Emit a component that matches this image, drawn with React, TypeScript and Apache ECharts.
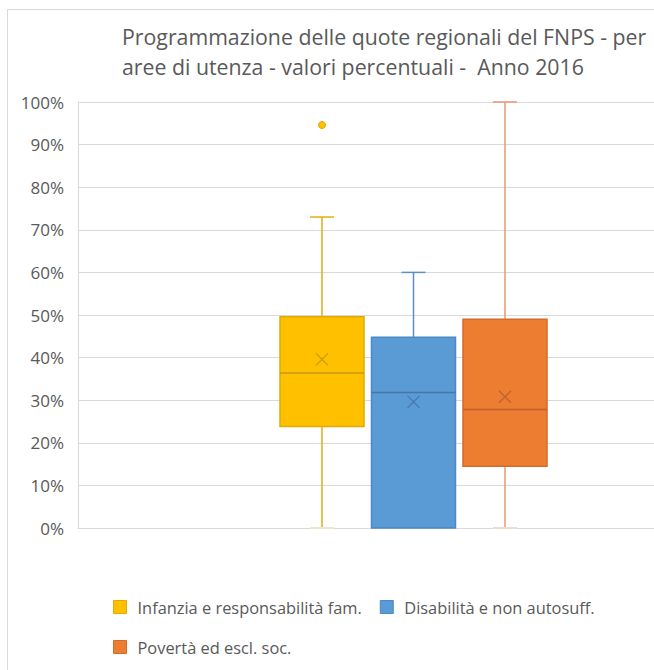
import React, { useEffect, useRef } from 'react';
import * as echarts from 'echarts';

const seriesNames = [
  'Infanzia e responsabilità fam.',
  'Disabilità e non autosuff.',
  'Povertà ed escl. soc.',
];
const categories = ['2016'];
const minValues = [0, 0, 0];
const q1Values = [23.8, 0, 14.5];
const medianValues = [36.4, 31.8, 27.8];
const q3Values = [49.6, 44.8, 49.0];
const maxValues = [73.0, 60.0, 100];
const meanValues = [39.6, 29.6, 30.8];
const outlierValues = [[94.6], [], []];

const fillColors = ['#FFC000', '#5B9BD5', '#ED7D31'];
const borderColors = ['#E2AA00', '#4C88C2', '#D66A2A'];
const whiskerColors = ['#E3AD12', '#5E8FC2', '#E39A72'];
const markColors = ['#C89A10', '#4577AA', '#BE6030'];
const capLowColors = ['#EFE4CC', '#D9DDE3', '#EFDCD0'];
const FONT = '"Open Sans", sans-serif';
const TEXT = '#595959';
const GRID = '#d9d9d9';

const offsets = [-91.5, 0, 91.5];
const boxHalf = 42;
const capHalf = 12;
const xHalf = 6;

export default function App() {
  const ref = useRef<HTMLDivElement>(null);
  useEffect(() => {
    if (!ref.current) return;
    const chart = echarts.init(ref.current, null, { renderer: 'svg' });

    const series = seriesNames.map((name, i) => ({
      name,
      type: 'custom',
      itemStyle: { color: fillColors[i] },
      encode: { x: 0, y: [1, 2, 3, 4, 5, 6] },
      data: [[0, minValues[i], q1Values[i], medianValues[i], q3Values[i], maxValues[i], meanValues[i]]],
      z: 5,
      renderItem: (params: any, api: any) => {
        const cat = api.value(0);
        const cx = api.coord([cat, 0])[0] + offsets[i];
        const y = (v: number) => api.coord([cat, v])[1];
        const yMin = y(api.value(1));
        const yQ1 = y(api.value(2));
        const yMed = y(api.value(3));
        const yQ3 = y(api.value(4));
        const yMax = y(api.value(5));
        const yMean = y(api.value(6));
        const wStyle = { stroke: whiskerColors[i], lineWidth: 1.5 };
        const children: any[] = [
          { type: 'line', shape: { x1: cx, y1: yMax, x2: cx, y2: yQ3 }, style: wStyle },
          { type: 'line', shape: { x1: cx, y1: yQ1, x2: cx, y2: yMin }, style: wStyle },
          { type: 'line', shape: { x1: cx - capHalf, y1: yMax, x2: cx + capHalf, y2: yMax }, style: wStyle },
          { type: 'line', shape: { x1: cx - capHalf, y1: yMin, x2: cx + capHalf, y2: yMin }, style: { stroke: capLowColors[i], lineWidth: 2 } },
          {
            type: 'rect',
            shape: { x: cx - boxHalf, y: yQ3, width: boxHalf * 2, height: yQ1 - yQ3 },
            style: { fill: fillColors[i], stroke: borderColors[i], lineWidth: 1.5 },
          },
          { type: 'line', shape: { x1: cx - boxHalf, y1: yMed, x2: cx + boxHalf, y2: yMed }, style: { stroke: markColors[i], lineWidth: 1.5 } },
          { type: 'line', shape: { x1: cx - xHalf, y1: yMean - xHalf, x2: cx + xHalf, y2: yMean + xHalf }, style: { stroke: markColors[i], lineWidth: 1.2 } },
          { type: 'line', shape: { x1: cx - xHalf, y1: yMean + xHalf, x2: cx + xHalf, y2: yMean - xHalf }, style: { stroke: markColors[i], lineWidth: 1.2 } },
        ];
        outlierValues[i].forEach((v) => {
          children.push({
            type: 'circle',
            shape: { cx, cy: y(v), r: 3.5 },
            style: { fill: fillColors[i], stroke: borderColors[i], lineWidth: 1 },
          });
        });
        return { type: 'group', children };
      },
    }));

    chart.setOption({
      animation: false,
      backgroundColor: '#ffffff',
      title: {
        text: 'Programmazione delle quote regionali del FNPS - per\naree di utenza - valori percentuali -  Anno 2016',
        left: 117,
        top: 16,
        textStyle: { fontSize: 21.3, fontWeight: 'normal', color: TEXT, lineHeight: 30, fontFamily: FONT },
      },
      legend: {
        left: 108,
        top: 591,
        width: 545,
        itemWidth: 13,
        itemHeight: 13,
        itemGap: 18,
        icon: 'rect',
        textStyle: { fontSize: 16.4, color: TEXT, fontFamily: FONT, lineHeight: 22, padding: [0, 0, 0, 6] },
        data: seriesNames.map((name, i) => ({
          name,
          itemStyle: { color: fillColors[i], borderColor: borderColors[i], borderWidth: 1 },
        })),
      },
      grid: { left: 78, top: 102, width: 671, bottom: 142, containLabel: false },
      xAxis: {
        type: 'category',
        data: categories,
        axisLabel: { show: false },
        axisTick: { show: false },
        axisLine: { show: true, lineStyle: { color: GRID, width: 1 } },
        splitLine: { show: false },
      },
      yAxis: {
        type: 'value',
        min: 0,
        max: 100,
        interval: 10,
        axisLabel: { formatter: '{value}%', color: TEXT, fontSize: 17, fontFamily: FONT, margin: 14 },
        axisLine: { show: true, lineStyle: { color: GRID, width: 1 } },
        axisTick: { show: false },
        splitLine: { show: true, lineStyle: { color: GRID, width: 1 } },
      },
      graphic: [
        { type: 'line', shape: { x1: 7.5, y1: 9.5, x2: 900, y2: 9.5 }, style: { stroke: GRID, lineWidth: 1 }, silent: true },
        { type: 'line', shape: { x1: 7.5, y1: 9.5, x2: 7.5, y2: 700 }, style: { stroke: GRID, lineWidth: 1 }, silent: true },
      ],
      series,
    });
    return () => chart.dispose();
  }, []);

  return (
    <div style={{ position: 'fixed', left: 0, top: 0, width: 654, height: 670, overflow: 'hidden', background: '#fff' }}>
      <div ref={ref} style={{ position: 'absolute', left: 0, top: 0, width: 800, height: 670 }} />
    </div>
  );
}
